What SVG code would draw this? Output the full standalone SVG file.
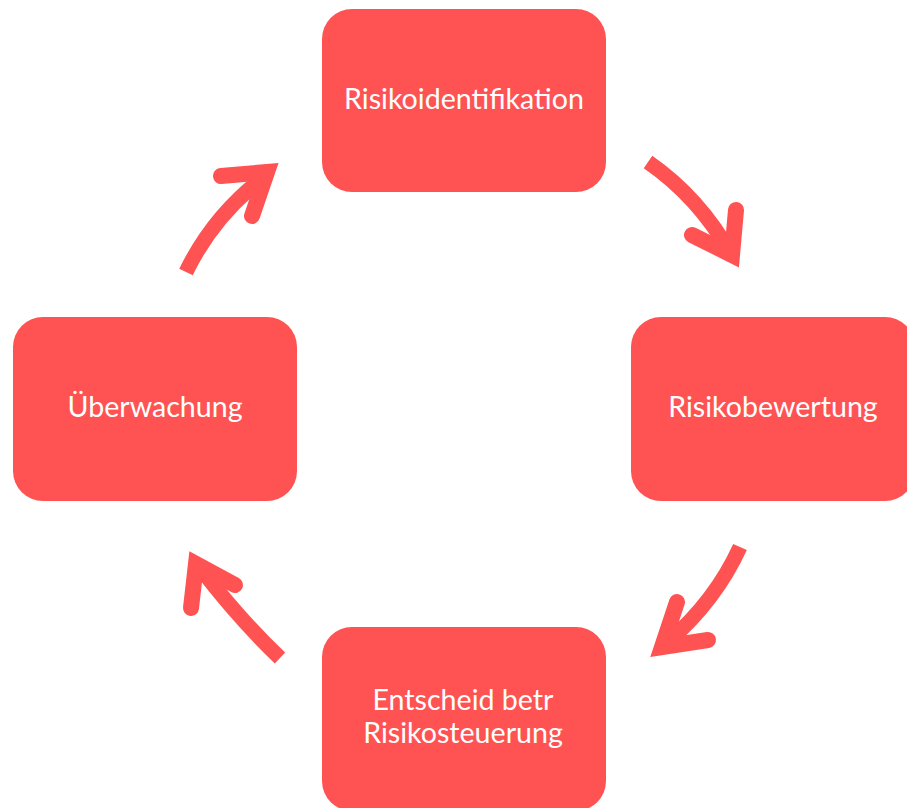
<svg xmlns="http://www.w3.org/2000/svg" width="907" height="808" viewBox="0 0 907 808">
<style>
.box{fill:#FF5252}
.lbl{fill:#FFFFFF;font-family:Lato,"Open Sans","Liberation Sans",sans-serif;font-size:28.6px;text-anchor:middle}
.shaft{fill:none;stroke:#FF5252;stroke-width:15;stroke-linecap:butt}
.head{fill:none;stroke:#FF5252;stroke-width:16;stroke-linecap:round;stroke-linejoin:miter;stroke-miterlimit:6}
</style>
<rect width="907" height="808" fill="#FFFFFF"/>
<g id="connectors">
  <g id="arrow1">
    <path class="shaft" d="M186,272 Q214,214 268,174"/>
    <path class="head" d="M221,176 L267,172 L252,216"/>
  </g>
  <g id="arrow2">
    <path class="shaft" d="M648,162 Q700,198 732,256"/>
    <path class="head" d="M692,235 L732,255 L736,210"/>
  </g>
  <g id="arrow3">
    <path class="shaft" d="M740,547 Q716,600 668,642"/>
    <path class="head" d="M677,602 L662,647 L708,640"/>
  </g>
  <g id="arrow4">
    <path class="shaft" d="M280,658 Q240,620 200,568"/>
    <path class="head" d="M191,608 L196,564 L235,585"/>
  </g>
</g>
<g id="node-identifikation">
  <rect class="box" x="322" y="9" width="284" height="183" rx="30"/>
  <text class="lbl" x="464" y="109">Risikoidentifikation</text>
</g>
<g id="node-bewertung">
  <rect class="box" x="631" y="317" width="284" height="184" rx="30"/>
  <text class="lbl" x="773" y="417">Risikobewertung</text>
</g>
<g id="node-steuerung">
  <rect class="box" x="322" y="627" width="284" height="184" rx="30"/>
  <text class="lbl" x="463" y="710">Entscheid betr</text>
  <text class="lbl" x="463" y="743">Risikosteuerung</text>
</g>
<g id="node-ueberwachung">
  <rect class="box" x="13" y="317" width="284" height="184" rx="30"/>
  <text class="lbl" x="155" y="417">Überwachung</text>
</g>
</svg>
